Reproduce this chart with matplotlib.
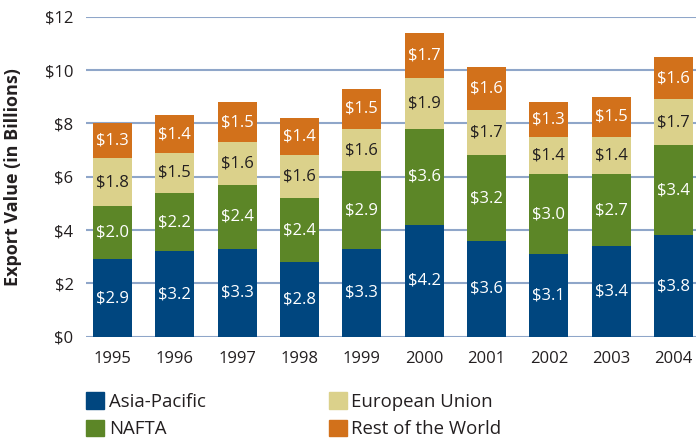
import numpy as np
import matplotlib
matplotlib.use("Agg")
import matplotlib.pyplot as plt
from matplotlib.patches import Patch

plt.rcParams['font.family'] = ['Open Sans', 'DejaVu Sans']

years = ['1995', '1996', '1997', '1998', '1999', '2000', '2001', '2002', '2003', '2004']
asia = [2.9, 3.2, 3.3, 2.8, 3.3, 4.2, 3.6, 3.1, 3.4, 3.8]
nafta = [2.0, 2.2, 2.4, 2.4, 2.9, 3.6, 3.2, 3.0, 2.7, 3.4]
eu = [1.8, 1.5, 1.6, 1.6, 1.6, 1.9, 1.7, 1.4, 1.4, 1.7]
rest = [1.3, 1.4, 1.5, 1.4, 1.5, 1.7, 1.6, 1.3, 1.5, 1.6]
series_names = ['Asia-Pacific', 'NAFTA', 'European Union', 'Rest of the World']

colors = ['#00467f', '#5c8627', '#dbd18b', '#d2711b']
txtcol = ['white', 'white', '#231f20', 'white']
grid_c = '#8fa6c9'

fig = plt.figure(figsize=(6.96, 4.38), dpi=100)
ax = fig.add_axes([0.1236, 0.2313, 0.882, 0.7306])

x = np.arange(len(years))
bottom = np.zeros(len(years))
for vals, c, tc in zip([asia, nafta, eu, rest], colors, txtcol):
    vals = np.array(vals)
    ax.bar(x, vals, width=0.626, bottom=bottom, color=c, zorder=3)
    for xi, b, v in zip(x, bottom, vals):
        ax.text(xi, b + v / 2, '$%.1f' % v, ha='center', va='center',
                color=tc, fontsize=12, zorder=4)
    bottom += vals

ax.set_xlim(-0.425, 9.425)
ax.set_ylim(0, 12)
ax.set_yticks(range(0, 13, 2))
ax.set_yticklabels(['$%d' % v for v in range(0, 13, 2)])
ax.set_xticks(x)
ax.set_xticklabels(years)
ax.tick_params(length=0, labelsize=12, colors='#231f20')
ax.tick_params(axis='x', pad=10)
ax.tick_params(axis='y', pad=9)
ax.yaxis.grid(True, color=grid_c, linewidth=1.5, zorder=0)
for s in ax.spines.values():
    s.set_visible(False)
ax.set_ylabel('Export Value (in Billions)', fontsize=13, fontweight='bold',
              color='#231f20')
ax.yaxis.set_label_coords(-0.105, 0.5)

handles = [Patch(color=c) for c in colors]
# two legend columns placed separately
for i, xpos in [(0, 0.124), (2, 0.472)]:
    fig.legend(handles[i:i + 2], series_names[i:i + 2], loc='upper left',
               bbox_to_anchor=(xpos, 0.104), ncol=1, frameon=False,
               fontsize=13.4, handlelength=0.97, handleheight=0.97,
               handletextpad=0.25, labelspacing=0.46,
               borderpad=0, borderaxespad=0, labelcolor='#231f20')

fig.savefig('out.png', dpi=100)
